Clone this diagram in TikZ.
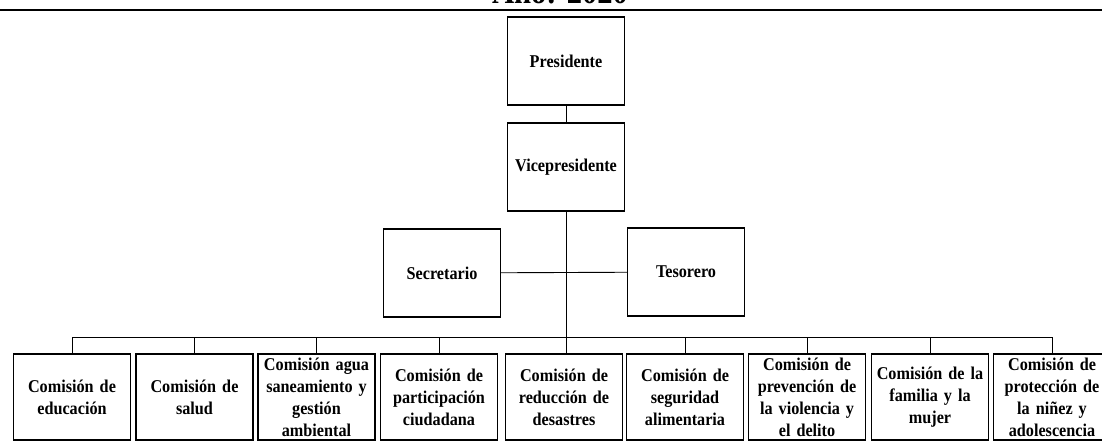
\documentclass[tikz,border=0pt]{standalone}
\usepackage{fontspec}
\setmainfont{Liberation Serif}[FakeStretch=0.9]
\usepackage{tikz}
\usetikzlibrary{
	calc,
	positioning
	}
\tikzstyle{cargo-std}=[draw,line width=1.2pt,rectangle,minimum width=117pt,minimum height=88pt,inner sep=2pt,align=center,font=\bfseries\fontsize{18}{22}\selectfont]
\tikzstyle{comision-std}=[cargo-std,minimum height=86pt,text width=112pt]
\tikzstyle{linea-std}=[line width=0.9pt]

\begin{document}
\begin{tikzpicture}[x=1pt,y=-1pt]
\clip (0,0) rectangle (1102,440);
\node[font=\bfseries\fontsize{34}{34}\selectfont,anchor=base,inner sep=0pt] (titulo) at (560,3) {Año: 2020};
\draw[line width=1.6pt] (0,10) -- (1102,10);

\node[cargo-std] (pres) at (566,61) {Presidente};
\node[cargo-std] (vice) at (566,167) {Vicepresidente};
\node[cargo-std] (sec) at (442,273) {Secretario};
\node[cargo-std] (tes) at (686,272) {Tesorero};

\node[comision-std] (com1) at (72,397) {Comisión de\\educación};
\node[comision-std] (com2) at (194.5,397) {Comisión de\\salud};
\node[comision-std] (com3) at (316.5,397) {Comisión agua\\saneamiento y\\gestión\\ambiental};
\node[comision-std] (com4) at (439,397) {Comisión de\\participación\\ciudadana};
\node[comision-std] (com5) at (564,397) {Comisión de\\reducción de\\desastres};
\node[comision-std] (com6) at (685,397) {Comisión de\\seguridad\\alimentaria};
\node[comision-std] (com7) at (807,397) {Comisión de\\prevención de\\la violencia y\\el delito};
\node[comision-std] (com8) at (930,397) {Comisión de la\\familia y la\\mujer};
\node[comision-std] (com9) at (1052,397) {Comisión de\\protección de\\la niñez y\\adolescencia};

\coordinate (bus) at (0,337);
\draw[linea-std] (pres) -- (vice);
\draw[linea-std] (sec) -- (tes);
\draw[linea-std] (vice.south) -- (vice.south |- com5.north);
\draw[linea-std] (com1.north) |- (bus -| com9.north) -- (com9.north);
\draw[linea-std] (com2.north) -- (com2.north |- bus)
   (com3.north) -- (com3.north |- bus)
   (com4.north) -- (com4.north |- bus)
   (com6.north) -- (com6.north |- bus)
   (com7.north) -- (com7.north |- bus)
   (com8.north) -- (com8.north |- bus);
\end{tikzpicture}
\end{document}
